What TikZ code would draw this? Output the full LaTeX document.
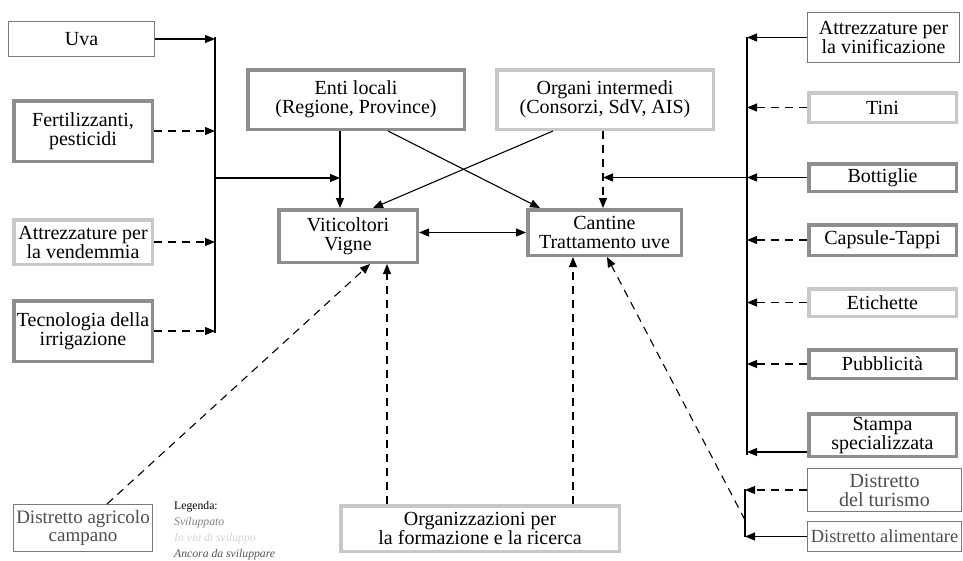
\documentclass[tikz,border=0pt]{standalone}
\usepackage{fontspec}
\setmainfont{Liberation Serif}
\usetikzlibrary{arrows.meta, positioning}
\definecolor{darkline}{HTML}{8E8E8E}
\definecolor{lightline}{HTML}{C8C8C8}
\definecolor{thinline}{HTML}{7A7A7A}
\definecolor{greytext}{HTML}{4D4D4D}
\tikzstyle{developed} = [rectangle, draw=darkline, line width=3.5pt, align=center, inner sep=2pt]
\tikzstyle{developing} = [rectangle, draw=lightline, line width=3.5pt, align=center, inner sep=2pt]
\tikzstyle{undeveloped} = [rectangle, draw=thinline, line width=1.2pt, align=center, inner sep=2pt]
\tikzstyle{arrow} = [line width=1.1pt, -{Triangle[length=10pt,width=8pt]}]
\tikzstyle{darrow} = [arrow, dash pattern=on 8pt off 6pt]
\tikzstyle{twoway} = [line width=1.1pt, {Triangle[length=10pt,width=8pt]}-{Triangle[length=10pt,width=8pt]}]
\tikzstyle{bus} = [line width=1.1pt]

\begin{document}
\begin{tikzpicture}[x=1pt, y=-1pt, node distance=65pt, every node/.style={font=\fontsize{20}{19}\selectfont}]
\useasboundingbox (0,0) rectangle (963,560);

% left column
\node (uva) [undeveloped, minimum width=146pt, minimum height=35pt] at (81.5,39) {Uva};
\node (fert) [developed, below of=uva, xshift=1.5pt, yshift=-27pt, minimum width=138.5pt, minimum height=60.5pt] {Fertilizzanti,\\pesticidi};
\node (vend) [developing, below of=fert, yshift=-46pt, minimum width=138.5pt, minimum height=44.5pt] {Attrezzature per\\la vendemmia};
\node (tecn) [developed, below of=vend, yshift=-24pt, minimum width=138.5pt, minimum height=60.5pt] {Tecnologia della\\irrigazione};

% centre
\node (enti) [developed, minimum width=216.5pt, minimum height=59.5pt] at (356,99.5) {Enti locali\\(Regione, Province)};
\node (organi) [developing, minimum width=216.5pt, minimum height=59.5pt] at (605,99.5) {Organi intermedi\\(Consorzi, SdV, AIS)};
\node (vit) [developed, minimum width=138.5pt, minimum height=52.5pt] at (348,236) {Viticoltori\\Vigne};
\node (cant) [developed, minimum width=153.5pt, minimum height=45.5pt] at (604.5,232.5) {Cantine\\Trattamento uve};

% right column
\node (vinif) [undeveloped, minimum width=151.8pt, minimum height=49.8pt] at (883.5,37.5) {Attrezzature per\\la vinificazione};
\node (tini) [developing, below of=vinif, xshift=-1pt, yshift=-5pt, minimum width=147.5pt, minimum height=29.5pt] {Tini};
\node (bott) [developed, below of=tini, yshift=-5pt, minimum width=147.5pt, minimum height=27.5pt] {Bottiglie};
\node (caps) [developed, below of=bott, yshift=2.5pt, minimum width=147.5pt, minimum height=30.5pt] {Capsule-Tappi};
\node (etich) [developing, below of=caps, yshift=2.5pt, minimum width=147.5pt, minimum height=27.5pt] {Etichette};
\node (pubb) [developed, below of=etich, yshift=3.5pt, minimum width=147.5pt, minimum height=28.5pt] {Pubblicità};
\node (stampa) [developed, below of=pubb, yshift=-6pt, minimum width=147.5pt, minimum height=42.5pt] {Stampa\\specializzata};
\node (turismo) [undeveloped, below of=stampa, xshift=2pt, yshift=10pt, minimum width=153.8pt, minimum height=42.8pt, text=greytext] {Distretto\\del turismo};
\node (alim) [undeveloped, below of=turismo, yshift=18.5pt, minimum width=153.8pt, minimum height=29.8pt, text=greytext, font=\fontsize{18.5}{17}\selectfont] {Distretto alimentare};

% bottom
\node (agric) [undeveloped, minimum width=138.8pt, minimum height=46.8pt, text=greytext, font=\fontsize{19}{18.5}\selectfont] at (83,528) {Distretto agricolo\\campano};
\node (org) [developing, minimum width=278.5pt, minimum height=45.5pt] at (480,528.5) {Organizzazioni per\\la formazione e la ricerca};
\node (legenda) [anchor=base west, align=left, inner sep=0pt, font=\fontsize{11.7}{15.7}\selectfont] at (174,557) {Legenda:\\\textcolor[HTML]{7F7F7F}{\itshape Sviluppato}\\\textcolor[HTML]{D3D3D3}{\itshape In via di sviluppo}\\\textcolor[HTML]{555555}{\itshape Ancora da sviluppare}};

% buses
\coordinate (lbustop) at (215,37);
\coordinate (lbusbot) at (215,333);
\coordinate (lbusmid) at (215,178);
\coordinate (vtap) at (340,178);
\coordinate (ctap) at (603,177.5);
\coordinate (rbustop) at (747,37);
\coordinate (rbusbot) at (747,455);
\coordinate (sbustop) at (745,489);
\coordinate (sbusbot) at (745,536.5);
\coordinate (sbustap) at (745,520);

\draw [bus] (lbustop) -- (lbusbot);
\draw [bus] (rbustop) -- (rbusbot);
\draw [bus] (sbustop) -- (sbusbot);

\draw [arrow] (uva) -- (uva -| lbustop);
\draw [darrow] (fert) -- (fert -| lbustop);
\draw [darrow] (vend) -- (vend -| lbustop);
\draw [darrow] (tecn) -- (tecn -| lbustop);
\draw [arrow] (lbusmid) -- (vtap);

\draw [arrow] (vtap |- enti.south) -- (vtap |- vit.north);
\draw [arrow] ([xshift=32pt]enti.south) -- ([xshift=-64.5pt]cant.north);
\draw [arrow] ([xshift=-52pt]organi.south) -- ([xshift=25pt]vit.north);
\draw [darrow] (ctap |- organi.south) -- (ctap |- cant.north);
\draw [twoway] (vit.east |- cant.west) -- (cant.west);

\draw [arrow] (vinif) -- (vinif -| rbustop);
\draw [darrow] (tini) -- (tini -| rbustop);
\draw [arrow] (bott) -- (bott -| rbustop);
\draw [arrow] (bott -| rbustop) -- (ctap);
\draw [darrow] (caps) -- (caps -| rbustop);
\draw [darrow] (etich) -- (etich -| rbustop);
\draw [darrow] (pubb) -- (pubb -| rbustop);
\draw [arrow] ([yshift=-17pt]stampa.west) -- ([yshift=-17pt]stampa.west -| rbustop);
\draw [darrow] (turismo) -- (turismo -| sbustop);
\draw [arrow] (alim) -- (alim -| sbustop);

\draw [darrow] ([xshift=24pt]agric.north) -- ([xshift=22pt]vit.south);
\draw [darrow] ([xshift=-93pt]org.north) -- ([xshift=-93pt]org.north |- vit.south);
\draw [darrow] ([xshift=93pt]org.north) -- ([xshift=93pt]org.north |- cant.south);
\draw [darrow] (sbustap) -- ([xshift=2.5pt]cant.south);
\end{tikzpicture}
\end{document}
